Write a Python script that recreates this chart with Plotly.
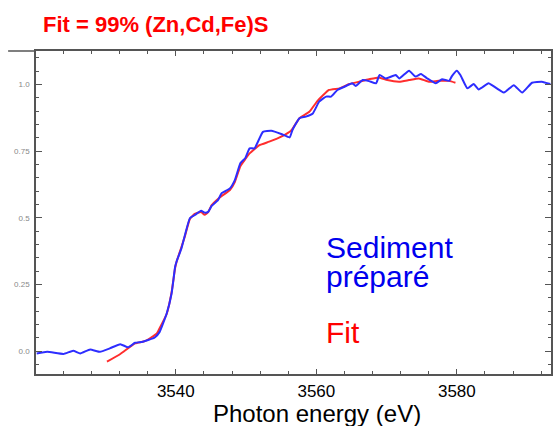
import plotly.graph_objects as go

# Sediment préparé (blue) spectrum
sed_energy = [3520.2, 3521.7, 3524.0, 3525.4, 3526.4, 3527.8, 3529.2, 3530.6, 3532.1, 3533.2,
              3534.2, 3535.3, 3537.0, 3537.7, 3538.7, 3539.4, 3539.9, 3540.1, 3540.8, 3541.3,
              3542.0, 3542.7, 3543.6, 3544.1, 3544.6, 3545.1, 3546.0, 3546.5, 3547.7, 3548.4,
              3549.2, 3549.9, 3550.5, 3551.2, 3552.4, 3553.6, 3555.0, 3556.2, 3556.6, 3557.6,
              3558.5, 3559.5, 3560.4, 3561.4, 3562.1, 3563.0, 3564.0, 3565.1, 3565.6, 3566.6,
              3567.5, 3568.5, 3569.0, 3569.9, 3571.3, 3571.8, 3573.2, 3574.1, 3574.9, 3575.8,
              3577.0, 3577.9, 3578.9, 3579.3, 3580.0, 3580.5, 3581.5, 3582.4, 3583.1, 3584.5,
              3585.0, 3586.7, 3588.1, 3589.3, 3590.7, 3592.1, 3593.3]
sed_value = [-0.009, -0.003, -0.011, 0.001, -0.009, 0.006, -0.003, 0.010, 0.026, 0.014,
             0.031, 0.035, 0.051, 0.072, 0.141, 0.216, 0.316, 0.335, 0.385, 0.435,
             0.498, 0.510, 0.526, 0.519, 0.522, 0.544, 0.566, 0.591, 0.610, 0.641,
             0.705, 0.724, 0.760, 0.760, 0.822, 0.826, 0.814, 0.801, 0.829, 0.873,
             0.879, 0.891, 0.935, 0.954, 0.954, 0.979, 0.991, 1.004, 0.994, 1.016,
             1.012, 1.004, 1.035, 1.022, 1.035, 1.022, 1.051, 1.029, 1.039, 1.022,
             1.004, 1.019, 1.013, 1.031, 1.051, 1.035, 0.985, 1.001, 0.981, 1.004,
             0.997, 0.969, 0.997, 0.969, 1.006, 1.010, 1.001]

# Fit (red) spectrum
fit_energy = [3530.2, 3532.1, 3534.2, 3535.6, 3537.3, 3537.7, 3538.7, 3539.4, 3539.9, 3540.1,
              3540.8, 3541.3, 3542.0, 3542.7, 3543.6, 3544.1, 3544.6, 3545.1, 3546.0, 3546.5,
              3547.7, 3548.4, 3549.2, 3549.9, 3550.5, 3551.9, 3553.3, 3555.0, 3556.4, 3557.6,
              3559.0, 3560.2, 3561.8, 3563.3, 3564.7, 3566.1, 3567.5, 3568.9, 3570.1, 3571.8,
              3573.2, 3574.6, 3576.0, 3577.4, 3578.9, 3579.8]
fit_value = [-0.040, -0.011, 0.029, 0.037, 0.066, 0.086, 0.139, 0.221, 0.311, 0.334,
             0.390, 0.431, 0.495, 0.514, 0.521, 0.511, 0.521, 0.547, 0.570, 0.581,
             0.604, 0.634, 0.694, 0.720, 0.741, 0.772, 0.785, 0.804, 0.826, 0.873,
             0.897, 0.939, 0.979, 0.985, 1.001, 1.010, 1.019, 1.026, 1.016, 1.010,
             1.016, 1.022, 1.010, 1.013, 1.013, 1.006]

x_tick_vals = [3540, 3560, 3580]
x_tick_text = ["3540", "3560", "3580"]
y_tick_vals = [0.0, 0.25, 0.5, 0.75, 1.0]
y_tick_text = ["0.0", "0.25", "0.5", "0.75", "1.0"]

W, H = 553, 426
L, R, T, B = 36, 0, 51, 52
pw, ph = W - L - R, H - T - B


def px(x):
    return (x - L) / pw


def py(y):
    return (H - B - y) / ph


fig = go.Figure()
fig.add_trace(go.Scatter(x=fit_energy, y=fit_value, mode="lines",
                         line=dict(color="rgb(255,45,45)", width=2, shape="spline", smoothing=0.4),
                         hoverinfo="skip", showlegend=False))
fig.add_trace(go.Scatter(x=sed_energy, y=sed_value, mode="lines",
                         line=dict(color="rgb(45,45,255)", width=2, shape="spline", smoothing=0.4),
                         hoverinfo="skip", showlegend=False))

axis_color = "#555555"
fig.update_xaxes(range=[3520.1, 3593.4], tickvals=x_tick_vals, ticktext=x_tick_text,
                 ticks="inside", ticklen=5, tickwidth=1.2, tickcolor=axis_color,
                 showline=True, linecolor=axis_color, linewidth=1.5, mirror="ticks",
                 showgrid=False, zeroline=False, ticklabelstandoff=1,
                 tickfont=dict(family="Liberation Sans, Arial", size=17, color="black"),
                 minor=dict(dtick=4, tick0=3520, ticks="inside", ticklen=3,
                            tickcolor=axis_color, tickwidth=1, showgrid=False))
fig.update_yaxes(range=[-0.086, 1.125], tickvals=y_tick_vals, ticktext=y_tick_text,
                 ticks="inside", ticklen=6, tickwidth=1, tickcolor=axis_color,
                 showline=True, linecolor=axis_color, linewidth=1.5, mirror="ticks",
                 showgrid=False, zeroline=False, ticklabelstandoff=3,
                 tickfont=dict(family="Liberation Sans, Arial", size=8, color="#888888"),
                 minor=dict(dtick=0.05, tick0=0, ticks="inside", ticklen=3,
                            tickcolor=axis_color, tickwidth=1, showgrid=False))

annotations = [
    dict(text="<b>Fit = 99% (Zn,Cd,Fe)S</b>", x=px(41), y=py(25), xanchor="left", yanchor="middle",
         font=dict(family="Liberation Sans, Arial", size=22, color="#ff0000")),
    dict(text="Sediment", x=px(325), y=py(248), xanchor="left", yanchor="middle",
         font=dict(family="Liberation Sans, Arial", size=30, color="#0000ee")),
    dict(text="préparé", x=px(325), y=py(276), xanchor="left", yanchor="middle",
         font=dict(family="Liberation Sans, Arial", size=30, color="#0000ee")),
    dict(text="Fit", x=px(325), y=py(332), xanchor="left", yanchor="middle",
         font=dict(family="Liberation Sans, Arial", size=30, color="#ff0000")),
    dict(text="Photon energy (eV)", x=px(318.5), y=py(413), xanchor="center", yanchor="middle",
         font=dict(family="Liberation Sans, Arial", size=24, color="black")),
]
for a in annotations:
    a.update(xref="paper", yref="paper", showarrow=False)

fig.update_layout(
    width=W, height=H, margin=dict(l=L, r=R, t=T, b=B),
    paper_bgcolor="white", plot_bgcolor="white",
    annotations=annotations,
    shapes=[dict(type="line", xref="paper", yref="paper", x0=px(8), x1=0, y0=1, y1=1,
                 line=dict(color=axis_color, width=1.5))],
)

fig.write_html("out.html", config={"displayModeBar": False},
               post_script="document.body.style.margin='0';document.body.style.overflow='hidden';")
